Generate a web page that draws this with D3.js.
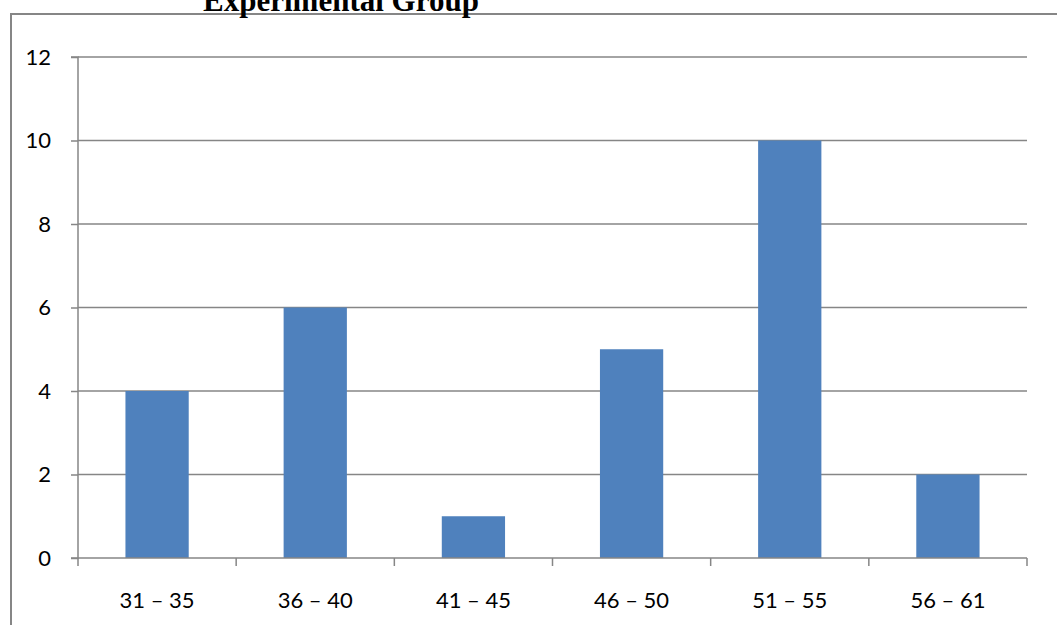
<!DOCTYPE html>
<html><head><meta charset="utf-8">
<script src="https://cdn.jsdelivr.net/npm/d3@7"></script>
<style>body{margin:0;background:#fff}svg{display:block}</style>
</head><body>
<script>
const categories = ["31 – 35","36 – 40","41 – 45","46 – 50","51 – 55","56 – 61"];
const values = [4, 6, 1, 5, 10, 2];
const yTicks = [0, 2, 4, 6, 8, 10, 12];
const title = "Experimental Group";

const W = 1057, H = 625;
const svg = d3.select("body").append("svg").attr("width", W).attr("height", H);
svg.append("rect").attr("width", W).attr("height", H).attr("fill", "#fff");

// chart border
svg.append("rect").attr("x", 11).attr("y", 14).attr("width", W + 20).attr("height", H + 20)
  .attr("fill", "none").attr("stroke", "#868686").attr("stroke-width", 2);

svg.append("text").attr("x", 341).attr("y", 11).attr("text-anchor", "middle")
  .attr("font-family", "Liberation Serif, Times New Roman, serif").attr("font-weight", "bold")
  .attr("font-size", 31).attr("fill", "#000").text(title);

const x0 = 78, x1 = 1027, yTop = 57, yBot = 558;
const x = d3.scaleBand().domain(categories).range([x0, x1]).paddingInner(0).paddingOuter(0);
const y = d3.scaleLinear().domain([0, 12]).range([yBot, yTop]);
const font = "Lato, Carlito, Calibri, sans-serif";

// gridlines
svg.append("g").selectAll("line").data(yTicks.filter(d => d > 0)).join("line")
  .attr("x1", x0).attr("x2", x1).attr("y1", d => y(d)).attr("y2", d => y(d))
  .attr("stroke", "#868686").attr("stroke-width", 1.5);

// bars
const bw = x.bandwidth() * 0.4;
svg.append("g").selectAll("rect").data(values).join("rect")
  .attr("x", (d, i) => x(categories[i]) + (x.bandwidth() - bw) / 2)
  .attr("width", bw)
  .attr("y", d => y(d)).attr("height", d => y(0) - y(d))
  .attr("fill", "#4F81BD");

// y axis
const ya = svg.append("g").attr("transform", `translate(${x0},0)`)
  .call(d3.axisLeft(y).tickValues(yTicks).tickSize(7).tickPadding(20).tickFormat(d3.format("d")));
ya.attr("font-family", font).attr("font-size", 22);
ya.select(".domain").attr("stroke", "#868686").attr("stroke-width", 1.5).attr("d", `M-7,${yTop}H0V${yBot}H-7`);
ya.selectAll(".tick line").attr("stroke", "#868686").attr("stroke-width", 1.5);
ya.selectAll("text").attr("fill", "#000");

// x axis
const xa = svg.append("g").attr("transform", `translate(0,${yBot})`)
  .call(d3.axisBottom(x).tickSize(0).tickPadding(34));
xa.attr("font-family", font).attr("font-size", 22);
xa.select(".domain").attr("stroke", "#868686").attr("stroke-width", 1.5).attr("d", `M${x0},0H${x1}`);
xa.selectAll("text").attr("fill", "#000");
// boundary ticks
const bounds = categories.map(c => x(c)).concat([x1]);
svg.append("g").selectAll("line").data(bounds).join("line")
  .attr("x1", d => d).attr("x2", d => d).attr("y1", yBot).attr("y2", yBot + 8)
  .attr("stroke", "#868686").attr("stroke-width", 1.5);
</script>
</body></html>
